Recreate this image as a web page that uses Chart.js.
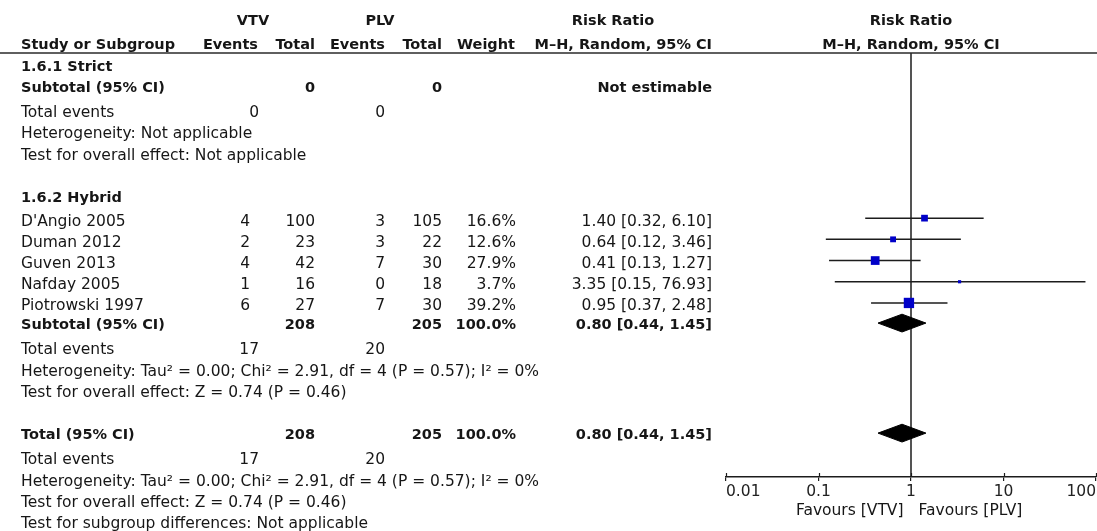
<!DOCTYPE html>
<html>
<head>
<meta charset="utf-8">
<script src="https://cdn.jsdelivr.net/npm/chart.js@4.4.1/dist/chart.umd.min.js"></script>
<style>
  html, body { margin: 0; padding: 0; background: #fff; }
  #wrap { width: 1097px; height: 531px; }
</style>
</head>
<body>
<div id="wrap"><canvas id="forest" width="1097" height="531"></canvas></div>
<script>
// --- Daten ---
const subgroups = ['1.6.1 Strict', '1.6.2 Hybrid'];
const studies = ["D'Angio 2005", 'Duman 2012', 'Guven 2013', 'Nafday 2005', 'Piotrowski 1997'];
const studyGroup = [1, 1, 1, 1, 1];
const vtvEvents = [4, 2, 4, 1, 6];
const vtvTotal = [100, 23, 42, 16, 27];
const plvEvents = [3, 3, 7, 0, 7];
const plvTotal = [105, 22, 30, 18, 30];
const weights = [16.6, 12.6, 27.9, 3.7, 39.2];
const riskRatio = [1.40, 0.64, 0.41, 3.35, 0.95];
const ciLow = [0.32, 0.12, 0.13, 0.15, 0.37];
const ciHigh = [6.10, 3.46, 1.27, 76.93, 2.48];
const subgroupRR = [null, [0.80, 0.44, 1.45]];
const overallRR = [0.80, 0.44, 1.45];
const subgroupHet = ['Heterogeneity: Not applicable',
  'Heterogeneity: Tau² = 0.00; Chi² = 2.91, df = 4 (P = 0.57); I² = 0%'];
const subgroupEffect = ['Test for overall effect: Not applicable',
  'Test for overall effect: Z = 0.74 (P = 0.46)'];
const overallHet = 'Heterogeneity: Tau² = 0.00; Chi² = 2.91, df = 4 (P = 0.57); I² = 0%';
const overallEffect = 'Test for overall effect: Z = 0.74 (P = 0.46)';
const subgroupDiff = 'Test for subgroup differences: Not applicable';
const xTicks = [0.01, 0.1, 1, 10, 100];
const favours = ['Favours [VTV]', 'Favours [PLV]'];

// --- Layout ---
const FONT = '"DejaVu Sans", sans-serif';
const FS = 15.5;       // normale Schrift
const FS_BOLD = 14.5;  // fette Schrift (DejaVu Bold ist breiter)
const TXT = '#161616';
const LINE = '#1c1c1c';
const COL = { label: 21, vE: 250, vEtot: 259, vT: 315, pE: 385, pT: 442, w: 516, ci: 712 };

const sum = a => a.reduce((s, x) => s + x, 0);
const fmtCI = (e, lo, hi) => `${e.toFixed(2)} [${lo.toFixed(2)}, ${hi.toFixed(2)}]`;

// Tabellenzeilen aufbauen
const rows = [];
subgroups.forEach((name, g) => {
    const idx = studies.map((_, i) => i).filter(i => studyGroup[i] === g);
    rows.push({ label: name, bold: true });
    idx.forEach(i => rows.push({
        label: studies[i], study: i,
        vE: vtvEvents[i], vT: vtvTotal[i], pE: plvEvents[i], pT: plvTotal[i],
        w: weights[i].toFixed(1) + '%',
        ci: fmtCI(riskRatio[i], ciLow[i], ciHigh[i])
    }));
    const sg = subgroupRR[g];
    rows.push({
        label: 'Subtotal (95% CI)', bold: true, sub: true,
        vT: sum(idx.map(i => vtvTotal[i])), pT: sum(idx.map(i => plvTotal[i])),
        w: idx.length ? sum(idx.map(i => weights[i])).toFixed(1) + '%' : '',
        ci: sg ? fmtCI(sg[0], sg[1], sg[2]) : 'Not estimable',
        diamond: sg
    });
    rows.push({ label: 'Total events', evTotal: true,
        vE: sum(idx.map(i => vtvEvents[i])), pE: sum(idx.map(i => plvEvents[i])) });
    rows.push({ label: subgroupHet[g] });
    rows.push({ label: subgroupEffect[g] });
    rows.push({});
});
rows.push({
    label: 'Total (95% CI)', bold: true, sub: true,
    vT: sum(vtvTotal), pT: sum(plvTotal), w: sum(weights).toFixed(1) + '%',
    ci: fmtCI(overallRR[0], overallRR[1], overallRR[2]), diamond: overallRR
});
rows.push({ label: 'Total events', evTotal: true, vE: sum(vtvEvents), pE: sum(plvEvents) });
rows.push({ label: overallHet });
rows.push({ label: overallEffect });
rows.push({ label: subgroupDiff });

// Zeilenposition (Einheiten der y-Achse), nach Subtotal etwas mehr Abstand,
// Studienzeilen sitzen etwas tiefer
let extra = 0;
rows.forEach((r, k) => {
    r.v = 0.48 + k + extra + (r.study !== undefined ? 0.12 : 0);
    if (r.sub) extra += 0.19;
});

// --- Datasets ---
const DIAMOND_H = 0.42;
const studyRows = rows.filter(r => r.study !== undefined);
const diamondRows = rows.filter(r => r.diamond);

const datasets = [];
datasets.push({
    data: studyRows.map(r => ({ x: riskRatio[r.study], y: r.v })),
    pointStyle: 'rect',
    pointRadius: studyRows.map(r => 1.65 * Math.sqrt(weights[r.study]) / Math.SQRT2),
    backgroundColor: '#0000c8',
    borderWidth: 0,
    showLine: false
});
diamondRows.forEach(r => {
    const [e, lo, hi] = r.diamond;
    const y = r.v + 0.07;
    datasets.push({
        data: [{ x: lo, y: y }, { x: e, y: y - DIAMOND_H }, { x: hi, y: y }, { x: e, y: y + DIAMOND_H }, { x: lo, y: y }],
        showLine: true, fill: 'shape', tension: 0,
        borderColor: '#000', backgroundColor: '#000', borderWidth: 1, pointRadius: 0
    });
});
studyRows.forEach(r => {
    datasets.push({
        data: [{ x: ciLow[r.study], y: r.v }, { x: ciHigh[r.study], y: r.v }],
        showLine: true, borderColor: LINE, borderWidth: 1.5, pointRadius: 0
    });
});
// Null-Linie bei RR = 1
datasets.push({
    data: [{ x: 1, y: 0 }, { x: 1, y: 20 }],
    showLine: true, borderColor: LINE, borderWidth: 1.5, pointRadius: 0
});

// --- Tabelle / Kopf als Plugin ---
const tablePlugin = {
    id: 'forestTable',
    afterDraw(chart) {
        const ctx = chart.ctx;
        const ys = chart.scales.y;
        const xs = chart.scales.x;
        const area = chart.chartArea;
        const put = (text, x, y, align, bold) => {
            if (text === undefined || text === '') return;
            ctx.font = bold ? `bold ${FS_BOLD}px ${FONT}` : `${FS}px ${FONT}`;
            ctx.textAlign = align;
            ctx.fillText(String(text), x, y);
        };
        ctx.save();
        ctx.fillStyle = TXT;
        ctx.textBaseline = 'alphabetic';

        // Kopfzeilen
        const h1 = area.top - 28, h2 = area.top - 3.8;
        const xMid = xs.getPixelForValue(1);
        put('VTV', 253, h1, 'center', true);
        put('PLV', 380, h1, 'center', true);
        put('Risk Ratio', 613, h1, 'center', true);
        put('Risk Ratio', xMid, h1, 'center', true);
        put('Study or Subgroup', COL.label, h2, 'left', true);
        put('Events', 258, h2, 'right', true);
        put('Total', COL.vT, h2, 'right', true);
        put('Events', COL.pE, h2, 'right', true);
        put('Total', COL.pT, h2, 'right', true);
        put('Weight', COL.w - 1, h2, 'right', true);
        put('M–H, Random, 95% CI', COL.ci, h2, 'right', true);
        put('M–H, Random, 95% CI', xMid, h2, 'center', true);

        // Linie unter dem Kopf
        ctx.strokeStyle = '#2a2a2a';
        ctx.lineWidth = 1.6;
        ctx.beginPath();
        ctx.moveTo(0, area.top);
        ctx.lineTo(chart.width, area.top);
        ctx.stroke();

        // Zeilen
        rows.forEach(r => {
            if (!r.label) return;
            const y = ys.getPixelForValue(r.v) + 7.5;
            const b = !!r.bold;
            put(r.label, COL.label, y, 'left', b);
            put(r.vE, r.evTotal ? COL.vEtot : COL.vE, y, 'right', b);
            put(r.vT, COL.vT, y, 'right', b);
            put(r.pE, COL.pE, y, 'right', b);
            put(r.pT, COL.pT, y, 'right', b);
            put(r.w, COL.w, y, 'right', b);
            put(r.ci, COL.ci, y, 'right', b);
        });

        // kleine Striche oberhalb der Achse
        ctx.strokeStyle = LINE;
        ctx.lineWidth = 1.2;
        xTicks.forEach(t => {
            const x = Math.round(xs.getPixelForValue(t)) + 0.5;
            ctx.beginPath();
            ctx.moveTo(x, area.bottom - 4);
            ctx.lineTo(x, area.bottom);
            ctx.stroke();
        });

        // Favours
        const fy = area.bottom + 38;
        put(favours[0], xMid - 7.5, fy, 'right', false);
        put(favours[1], xMid + 7.5, fy, 'left', false);
        ctx.restore();
    }
};

Chart.defaults.font.family = FONT;
Chart.defaults.font.size = FS;
Chart.defaults.color = TXT;

new Chart(document.getElementById('forest'), {
    type: 'scatter',
    data: { datasets: datasets },
    options: {
        responsive: false,
        animation: false,
        layout: { autoPadding: false, padding: { left: 726, right: 1, top: 53, bottom: 0 } },
        plugins: { legend: { display: false }, tooltip: { enabled: false } },
        scales: {
            x: {
                type: 'logarithmic',
                min: 0.01, max: 100,
                afterBuildTicks: scale => { scale.ticks = xTicks.map(v => ({ value: v })); },
                afterFit: scale => {
                    scale.height = 54;
                    scale.paddingLeft = 0;
                    scale.paddingRight = 0;
                },
                ticks: { align: 'inner', padding: 2, color: '#222',
                         callback: v => String(v), maxRotation: 0, autoSkip: false },
                grid: { drawOnChartArea: false, drawTicks: true, tickLength: 4, color: LINE, lineWidth: 1.2 },
                border: { display: true, color: LINE, width: 1.5 }
            },
            y: {
                type: 'linear', min: 0, max: 20, reverse: true, display: false
            }
        }
    },
    plugins: [tablePlugin]
});
</script>
</body>
</html>
